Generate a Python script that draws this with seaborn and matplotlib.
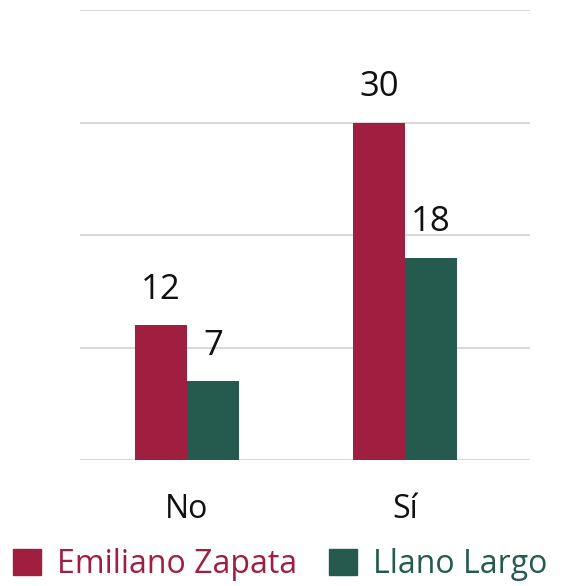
import pandas as pd
import matplotlib.pyplot as plt
import seaborn as sns

# Datos
respuestas = ["No", "Sí"]
comunidades = ["Emiliano Zapata", "Llano Largo"]
emiliano_zapata = [12, 30]
llano_largo = [7, 18]
colores = ["#A01F41", "#255B4E"]

df = pd.DataFrame({
    "respuesta": respuestas * 2,
    "comunidad": [comunidades[0]] * 2 + [comunidades[1]] * 2,
    "valor": emiliano_zapata + llano_largo,
})

sns.set_style("white")
plt.rcParams['font.family'] = ['Open Sans', 'DejaVu Sans']

fig = plt.figure(figsize=(5.71, 5.86), dpi=100)
ax = fig.add_axes([80 / 571, 1 - 460 / 586, 450 / 571, 450 / 586])

sns.barplot(data=df, x="respuesta", y="valor", hue="comunidad",
            palette=colores, width=0.48, saturation=1, linewidth=0,
            ax=ax, legend=False)

for cont in ax.containers:
    ax.bar_label(cont, padding=13, fontsize=25, color="#111111")

ax.set_ylim(0, 40)
ax.set_xlim(-0.49, 1.573)
ax.set_yticks([0, 10, 20, 30, 40])
ax.yaxis.grid(True, color="#d9d9d9", linewidth=1.5)
ax.set_axisbelow(True)
ax.tick_params(axis="y", left=False, labelleft=False)
ax.tick_params(axis="x", bottom=False, labelsize=23, pad=20, colors="#111111")
ax.set_xlabel("")
ax.set_ylabel("")
sns.despine(ax=ax, left=True, bottom=True)

# Leyenda
handles = [plt.Rectangle((0, 0), 1, 1, color=c) for c in colores]
leg = fig.legend(handles, comunidades, loc="lower left", bbox_to_anchor=(-0.016, -0.03),
                 ncol=2, frameon=False, fontsize=23, handlelength=0.875, handleheight=0.875,
                 handletextpad=0.5, columnspacing=1.0, borderaxespad=0.3)
for txt, c in zip(leg.get_texts(), colores):
    txt.set_color(c)

fig.savefig("out.png", dpi=100)
